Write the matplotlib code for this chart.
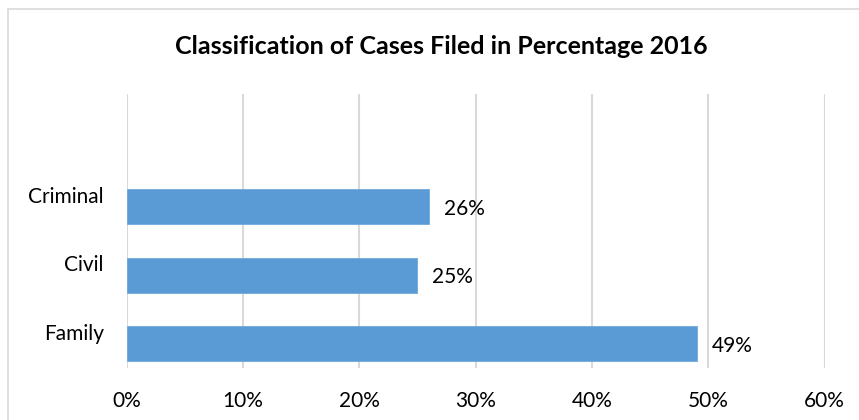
import matplotlib.pyplot as plt
from matplotlib.patches import Rectangle
import numpy as np

plt.rcParams['font.family'] = ['Lato', 'DejaVu Sans']

# data, bottom to top as drawn
categories = ['Family', 'Civil', 'Criminal']
values = [49, 25, 26]
xticks = [0, 10, 20, 30, 40, 50, 60]

W, H = 859, 420
fig = plt.figure(figsize=(W / 100, H / 100), dpi=100)

# chart area border (only left/top visible in the crop)
fig.patches.append(Rectangle((8 / W, -0.1), 1.2, 1 - 9 / H + 0.1,
                             transform=fig.transFigure, fill=False,
                             edgecolor='#D9D9D9', linewidth=1.2))

ax = fig.add_axes([126.7 / W, 52 / H, (824.5 - 126.7) / W, (368 - 94) / H])
y = np.arange(len(categories))
ax.barh(y, values, height=0.51, color='#5B9BD5', edgecolor='#6FA8DC',
        linewidth=0.6, zorder=3)

for yi, v in zip(y, values):
    ax.annotate(f'{v}%', xy=(v, yi), xytext=(15, -2), textcoords='offset pixels',
                ha='left', va='center', fontsize=15, color='#000000')

# category labels sit a little above the bar centres, like the original
for yi, c in zip(y, categories):
    ax.annotate(c, xy=(0, yi), xycoords=('axes fraction', 'data'),
                xytext=(-23, 10), textcoords='offset pixels',
                ha='right', va='center', fontsize=15, color='#000000')

ax.set_xlim(0, 60)
ax.set_ylim(-0.35, 3.64)
ax.set_xticks(xticks)
ax.set_xticklabels([f'{t}%' for t in xticks], fontsize=15)
ax.set_yticks([])
ax.tick_params(length=0)
ax.tick_params(axis='x', pad=16.5)
ax.xaxis.grid(True, color='#D9D9D9', linewidth=1.5, zorder=0)
for s in ax.spines.values():
    s.set_visible(False)

fig.text(441 / W, 1 - 47 / H, 'Classification of Cases Filed in Percentage 2016',
         ha='center', va='center', fontsize=18, fontweight='bold')

fig.savefig('out.png', dpi=100)
